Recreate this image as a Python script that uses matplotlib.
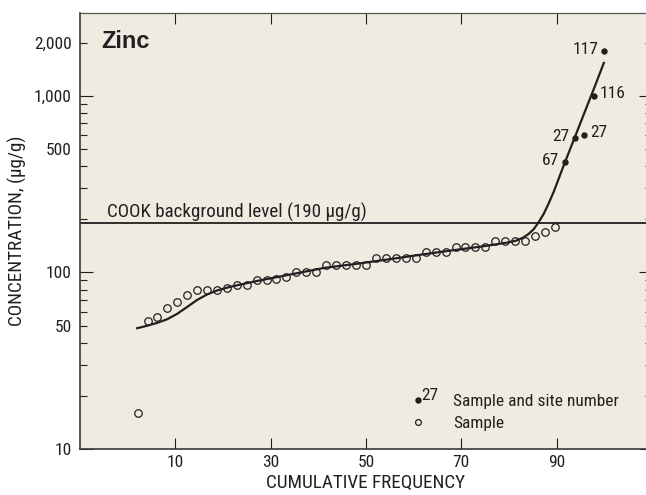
import matplotlib
matplotlib.use('Agg')
import matplotlib.pyplot as plt
from matplotlib.ticker import FixedLocator, FuncFormatter
from matplotlib.lines import Line2D

plt.rcParams['font.family'] = ['Roboto Condensed', 'DejaVu Sans']

# open circles: cumulative frequency (percent) and zinc concentration (ug/g)
sample_freq = [2.1, 4.2, 6.2, 8.3, 10.4, 12.5, 14.6, 16.7, 18.8, 20.8, 22.9,
               25.0, 27.1, 29.2, 31.2, 33.3, 35.4, 37.5, 39.6, 41.7, 43.8,
               45.8, 47.9, 50.0, 52.1, 54.2, 56.2, 58.3, 60.4, 62.5, 64.6,
               66.7, 68.8, 70.8, 72.9, 75.0, 77.1, 79.2, 81.2, 83.3, 85.4,
               87.5, 89.6]
sample_zinc = [16, 53, 56, 63, 68, 74, 80, 80, 80, 82, 85, 85, 90, 90, 92, 94,
               100, 100, 100, 110, 110, 110, 110, 110, 120, 120, 120, 120, 120,
               130, 130, 130, 140, 140, 140, 140, 150, 150, 150, 150, 160, 170,
               180]

# filled dots with site numbers
site_freq = [91.7, 93.8, 95.8, 97.9, 100.0]
site_zinc = [420, 580, 600, 1000, 1800]
site_numbers = ['67', '27', '27', '116', '117']
site_side = ['left', 'left', 'right', 'right', 'left']

# fitted curve
curve_freq = [2.0, 4.1, 6.2, 8.3, 10.4, 12.5, 14.6, 16.7, 18.8, 21.6, 27.2,
              34.2, 41.2, 48.2, 55.2, 61.5, 67.8, 74.1, 79.3, 81.4, 82.9, 84.1,
              85.2, 86.2, 87.3, 88.3, 89.4, 90.4, 91.5, 93.6, 95.7, 97.8, 99.9]
curve_zinc = [48.3, 49.9, 51.8, 54.3, 58.3, 63.8, 69.9, 75.1, 79.1, 83.0, 89.5,
              97.4, 106, 112, 119, 126, 133, 140, 147, 151, 157, 165, 176, 192,
              215, 245, 287, 338, 405, 564, 786, 1095, 1536]

background = 190
x_ticks = [10, 30, 50, 70, 90]
y_major = [10, 100, 1000]
y_minor = [20, 30, 40, 50, 60, 70, 80, 90, 200, 300, 400, 500, 600, 700, 800,
           900, 2000]
y_minor_labeled = [50, 500, 2000]

ink = '#231f20'
fs = 12.5

fig = plt.figure(figsize=(6.46, 4.95), dpi=100)
ax = fig.add_axes([80 / 646, 46 / 495, 572 / 646, 436 / 495])
ax.set_facecolor('#efebe1')

ax.plot(curve_freq, curve_zinc, color=ink, lw=1.6, zorder=3)
ax.plot(sample_freq, sample_zinc, 'o', ms=5.4, mfc='none', mec=ink, mew=0.9,
        zorder=4)
ax.plot(site_freq, site_zinc, 'o', ms=3.6, color=ink, zorder=5)

for x, y, num, side in zip(site_freq, site_zinc, site_numbers, site_side):
    if side == 'left':
        ax.annotate(num, (x, y), xytext=(-4, 1), textcoords='offset points',
                    ha='right', va='center', fontsize=fs, color=ink)
    else:
        ax.annotate(num, (x, y), xytext=(4, 2), textcoords='offset points',
                    ha='left', va='center', fontsize=fs, color=ink)

ax.axhline(background, color=ink, lw=1.3, zorder=2)
ax.annotate('COOK background level (190 \u03bcg/g)', (-4.4, background),
            xytext=(0, 1.2), textcoords='offset points', ha='left',
            va='bottom', fontsize=13.7, color=ink)

ax.set_yscale('log')
ax.set_xlim(-10, 110)
ax.set_ylim(10, 2944)

ax.xaxis.set_major_locator(FixedLocator(x_ticks))
ax.xaxis.set_minor_locator(FixedLocator([]))
ax.yaxis.set_major_locator(FixedLocator(y_major))
ax.yaxis.set_minor_locator(FixedLocator(y_minor))
ax.yaxis.set_major_formatter(FuncFormatter(lambda v, p: f'{int(v):,}'))
ax.yaxis.set_minor_formatter(FuncFormatter(
    lambda v, p: f'{int(round(v)):,}' if int(round(v)) in y_minor_labeled else ''))

ax.tick_params(axis='x', which='major', direction='in', length=8, width=0.8,
               top=True, pad=4, labelsize=fs, color=ink, labelcolor=ink)
ax.tick_params(axis='y', which='major', direction='in', length=9.5, width=0.8,
               right=True, pad=6, labelsize=fs, color=ink, labelcolor=ink)
ax.tick_params(axis='y', which='minor', direction='in', length=5, width=0.8,
               right=True, pad=6, labelsize=fs, color=ink, labelcolor=ink)

for side in ['left', 'bottom']:
    ax.spines[side].set_linewidth(1.2)
    ax.spines[side].set_color('#3a3a3a')
ax.spines['top'].set_linewidth(0.9)
ax.spines['top'].set_color('#555555')

ax.set_xlabel('CUMULATIVE FREQUENCY', fontsize=13.8, color=ink)
ax.set_ylabel('CONCENTRATION, (\u03bcg/g)', fontsize=13.8, color=ink)
ax.xaxis.set_label_coords(0.5, (449 - 474) / 436)
ax.yaxis.set_label_coords((27 - 80) / 572, 0.5)
ax.xaxis.label.set_va('top')

fig.text(101.5 / 646, (495 - 48.5) / 495, 'Zinc', fontsize=17,
         fontweight='bold', family='Liberation Sans', color=ink,
         va='baseline', ha='left')

# legend
handles = [Line2D([], [], ls='none', marker='o', ms=3.6, color=ink),
           Line2D([], [], ls='none', marker='o', ms=4.2, mfc='none', mec=ink,
                  mew=0.9)]
ax.legend(handles, ['Sample and site number', 'Sample'], loc='upper left',
          bbox_to_anchor=((409.3 - 80) / 572, (449 - 394) / 436),
          frameon=False, borderpad=0, borderaxespad=0, handlelength=1.0,
          handletextpad=1.52, labelspacing=0.38, fontsize=fs,
          labelcolor=ink)
ax.text((421 - 80) / 572, (449 - 395) / 436, '27', transform=ax.transAxes,
        fontsize=fs, color=ink, ha='left', va='center')

fig.savefig('out.png', dpi=100)
